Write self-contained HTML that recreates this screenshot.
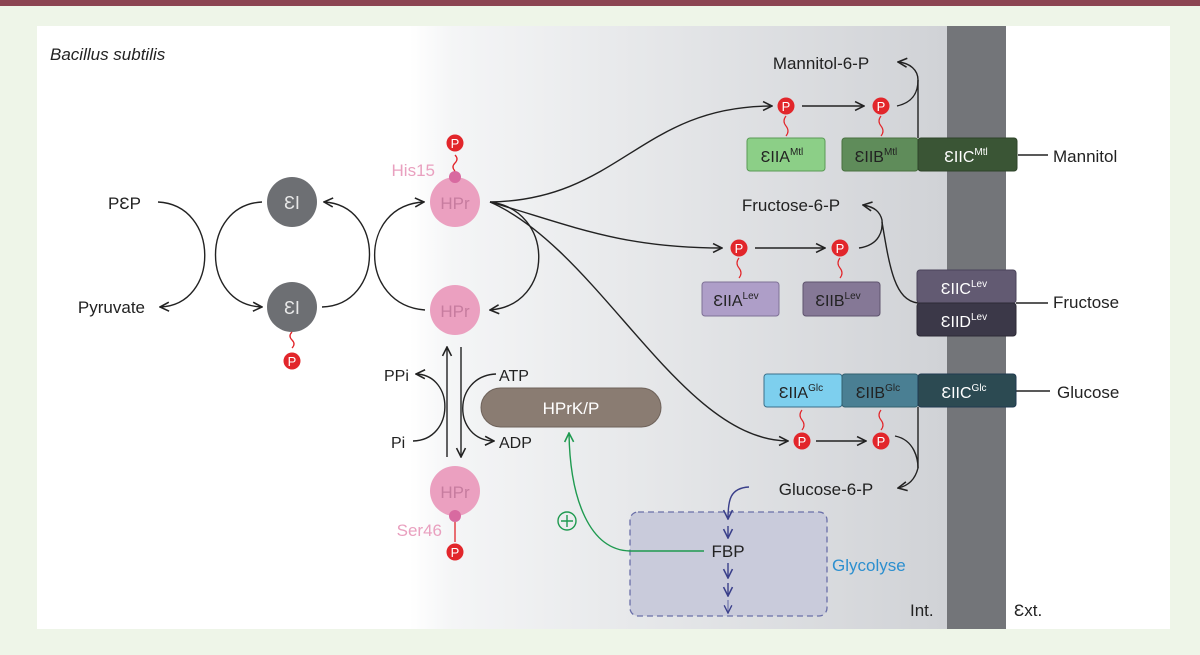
<!DOCTYPE html>
<html><head><meta charset="utf-8"><style>
body{margin:0;width:1200px;height:655px;overflow:hidden;background:#eef5e8}
svg{display:block}
text{font-family:"Liberation Sans",sans-serif}
</style></head><body>
<svg width="1200" height="655" viewBox="0 0 1200 655" xmlns="http://www.w3.org/2000/svg">
<defs>
<linearGradient id="g" x1="0" x2="1" y1="0" y2="0">
<stop offset="0" stop-color="#ffffff"/><stop offset="0.08" stop-color="#f4f5f6"/><stop offset="1" stop-color="#d0d2d6"/>
</linearGradient>
<marker id="a" viewBox="0 0 10 10" refX="9" refY="5" markerWidth="8" markerHeight="8" orient="auto-start-reverse"><path d="M1,1 L9,5 L1,9" fill="none" stroke="#222" stroke-width="1.4"/></marker>
<marker id="ab" viewBox="0 0 10 10" refX="9" refY="5" markerWidth="8" markerHeight="8" orient="auto"><path d="M1,1 L9,5 L1,9" fill="none" stroke="#3a3f8a" stroke-width="1.4"/></marker>
<marker id="ag" viewBox="0 0 10 10" refX="9" refY="5" markerWidth="8" markerHeight="8" orient="auto"><path d="M1,1 L9,5 L1,9" fill="none" stroke="#1f9a50" stroke-width="1.4"/></marker>
<g id="P"><circle r="8.5" fill="#e2262b"/><text y="5" text-anchor="middle" font-size="13" fill="#fff">P</text></g>
</defs>
<rect x="0" y="0" width="1200" height="6" fill="#8b4552"/>
<rect x="37" y="26" width="1133" height="603" fill="#fff"/>
<rect x="410" y="26" width="537" height="603" fill="url(#g)"/>
<rect x="947" y="26" width="59" height="603" fill="#737579"/>
<text x="50" y="60" font-size="17" font-style="italic" fill="#222">Bacillus subtilis</text>

<g fill="none" stroke="#222" stroke-width="1.4">
<path d="M158,202 C220,205 220,305 160,307" marker-end="url(#a)"/>
<path d="M262,202 C200,205 200,305 262,307" marker-end="url(#a)"/>
<path d="M322,307 C385,305 385,205 324,202" marker-end="url(#a)"/>
<path d="M425,310 C358,305 358,205 424,202" marker-end="url(#a)"/>
<path d="M490,202 C555,210 555,305 490,310" marker-end="url(#a)"/>
<path d="M490,202 C620,200 640,106 772,106" marker-end="url(#a)"/>
<path d="M490,202 C570,225 620,248 722,248" marker-end="url(#a)"/>
<path d="M490,202 C600,250 680,440 788,441" marker-end="url(#a)"/>
<path d="M802,106 L864,106" marker-end="url(#a)"/>
<path d="M897,106 C915,102 918,90 918,80 C918,70 910,63 898,62" marker-end="url(#a)"/>
<path d="M918,80 L918,138"/>
<path d="M755,248 L825,248" marker-end="url(#a)"/>
<path d="M859,248 C880,245 883,230 882,220 C880,212 875,207 863,205" marker-end="url(#a)"/>
<path d="M918,303 C895,300 890,270 882,222"/>
<path d="M816,441 L866,441" marker-end="url(#a)"/>
<path d="M895,436 C915,440 918,460 918,468 C915,480 908,486 898,488" marker-end="url(#a)"/>
<path d="M918,407 L918,468"/>
<path d="M447,457 L447,347" marker-end="url(#a)"/>
<path d="M461,347 L461,457" marker-end="url(#a)"/>
<path d="M413,441 C455,440 455,375 416,374" marker-end="url(#a)"/>
<path d="M496,374 C452,376 452,440 494,441" marker-end="url(#a)"/>
<path d="M1018,155 L1048,155"/><path d="M1016,303 L1048,303"/><path d="M1016,391 L1050,391"/>
</g>

<!-- EI -->
<circle cx="292" cy="202" r="25" fill="#6d6f73"/><text x="292" y="209" text-anchor="middle" font-size="18" fill="#e8e8e8">ƐI</text>
<circle cx="292" cy="307" r="25" fill="#6d6f73"/><text x="292" y="314" text-anchor="middle" font-size="18" fill="#e8e8e8">ƐI</text>
<path d="M292,332 q-4,4 0,8 q4,4 0,8" fill="none" stroke="#e2262b" stroke-width="1.3"/>
<use href="#P" x="292" y="361"/>
<text x="141" y="209" text-anchor="end" font-size="17" fill="#222">PƐP</text>
<text x="145" y="313" text-anchor="end" font-size="17" fill="#222">Pyruvate</text>

<!-- HPr -->
<circle cx="455" cy="202" r="25" fill="#eba0c0"/><text x="455" y="209" text-anchor="middle" font-size="17" fill="#c77c9f">HPr</text>
<circle cx="455" cy="177" r="6" fill="#d86aa0"/>
<path d="M455,171 q-4,-4 0,-8 q4,-4 0,-8" fill="none" stroke="#e2262b" stroke-width="1.3"/>
<use href="#P" x="455" y="143"/>
<text x="435" y="176" text-anchor="end" font-size="17" fill="#e9a0bf">His15</text>
<circle cx="455" cy="310" r="25" fill="#eba0c0"/><text x="455" y="317" text-anchor="middle" font-size="17" fill="#c77c9f">HPr</text>
<circle cx="455" cy="491" r="25" fill="#eba0c0"/><text x="455" y="498" text-anchor="middle" font-size="17" fill="#c77c9f">HPr</text>
<circle cx="455" cy="516" r="6" fill="#d86aa0"/>
<path d="M455,522 L455,542" stroke="#e2262b" stroke-width="1.3"/>
<use href="#P" x="455" y="552"/>
<text x="442" y="536" text-anchor="end" font-size="17" fill="#e9a0bf">Ser46</text>
<text x="384" y="381" font-size="16" fill="#222">PPi</text>
<text x="391" y="448" font-size="16" fill="#222">Pi</text>
<text x="499" y="381" font-size="16" fill="#222">ATP</text>
<text x="499" y="448" font-size="16" fill="#222">ADP</text>
<rect x="481" y="388" width="180" height="39" rx="19.5" fill="#8a7c72" stroke="#6e625a"/>
<text x="571" y="414" text-anchor="middle" font-size="17" fill="#fff">HPrK/P</text>

<!-- Glycolyse -->
<rect x="630" y="512" width="197" height="104" rx="8" fill="#c9cbdb" stroke="#6a6fa8" stroke-width="1.3" stroke-dasharray="6,4"/>
<path d="M749,487 C730,488 728,500 728,519" fill="none" stroke="#3a3f8a" stroke-width="1.4" marker-end="url(#ab)"/>
<path d="M728,526 L728,538" fill="none" stroke="#3a3f8a" stroke-width="1.4" marker-end="url(#ab)"/>
<path d="M728,563 L728,578" fill="none" stroke="#3a3f8a" stroke-width="1.4" marker-end="url(#ab)"/>
<path d="M728,583 L728,596" fill="none" stroke="#3a3f8a" stroke-width="1.4" marker-end="url(#ab)"/>
<path d="M728,600 L728,613" fill="none" stroke="#7075aa" stroke-width="1.2" marker-end="url(#ab)"/>
<text x="728" y="557" text-anchor="middle" font-size="17" fill="#222">FBP</text>
<text x="832" y="571" font-size="17" fill="#2c8fcf">Glycolyse</text>
<path d="M704,551 L630,551 C590,550 570,500 569,433" fill="none" stroke="#1f9a50" stroke-width="1.4" marker-end="url(#ag)"/>
<circle cx="567" cy="521" r="9" fill="none" stroke="#1f9a50" stroke-width="1.4"/>
<path d="M561,521 h12 M567,515 v12" stroke="#1f9a50" stroke-width="1.4"/>

<!-- Mannitol -->
<text x="821" y="69" text-anchor="middle" font-size="17" fill="#222">Mannitol-6-P</text>
<use href="#P" x="786" y="106"/><use href="#P" x="881" y="106"/>
<path d="M786,116 q-4,5 0,10 q4,5 0,10" fill="none" stroke="#e2262b" stroke-width="1.2"/>
<path d="M881,116 q-4,5 0,10 q4,5 0,10" fill="none" stroke="#e2262b" stroke-width="1.2"/>
<rect x="747" y="138" width="78" height="33" rx="3" fill="#8ccf87" stroke="#5a9a55"/>
<rect x="842" y="138" width="76" height="33" rx="3" fill="#5f8c5a" stroke="#48703f"/>
<rect x="918" y="138" width="99" height="33" rx="3" fill="#3a5535" stroke="#2e4429"/>
<text x="782" y="162" text-anchor="middle" font-size="16" fill="#222">ƐIIA<tspan font-size="10" dy="-7">Mtl</tspan></text>
<text x="876" y="162" text-anchor="middle" font-size="16" fill="#222">ƐIIB<tspan font-size="10" dy="-7">Mtl</tspan></text>
<text x="966" y="162" text-anchor="middle" font-size="16" fill="#fff">ƐIIC<tspan font-size="10" dy="-7">Mtl</tspan></text>
<text x="1053" y="162" font-size="17" fill="#222">Mannitol</text>

<!-- Fructose -->
<text x="791" y="211" text-anchor="middle" font-size="17" fill="#222">Fructose-6-P</text>
<use href="#P" x="739" y="248"/><use href="#P" x="840" y="248"/>
<path d="M739,258 q-4,5 0,10 q4,5 0,10" fill="none" stroke="#e2262b" stroke-width="1.2"/>
<path d="M840,258 q-4,5 0,10 q4,5 0,10" fill="none" stroke="#e2262b" stroke-width="1.2"/>
<rect x="702" y="282" width="77" height="34" rx="3" fill="#ae9ec8" stroke="#7f7196"/>
<rect x="803" y="282" width="77" height="34" rx="3" fill="#857896" stroke="#5e536e"/>
<rect x="917" y="270" width="99" height="33" rx="3" fill="#625a72" stroke="#4a435a"/>
<rect x="917" y="303" width="99" height="33" rx="3" fill="#3b3848" stroke="#2c2a36"/>
<text x="736" y="306" text-anchor="middle" font-size="16" fill="#222">ƐIIA<tspan font-size="10" dy="-7">Lev</tspan></text>
<text x="838" y="306" text-anchor="middle" font-size="16" fill="#222">ƐIIB<tspan font-size="10" dy="-7">Lev</tspan></text>
<text x="964" y="294" text-anchor="middle" font-size="16" fill="#fff">ƐIIC<tspan font-size="10" dy="-7">Lev</tspan></text>
<text x="964" y="327" text-anchor="middle" font-size="16" fill="#fff">ƐIID<tspan font-size="10" dy="-7">Lev</tspan></text>
<text x="1053" y="308" font-size="17" fill="#222">Fructose</text>

<!-- Glucose -->
<rect x="764" y="374" width="78" height="33" rx="3" fill="#7dcfee" stroke="#3a6f8a"/>
<rect x="842" y="374" width="76" height="33" rx="3" fill="#4a7f93" stroke="#33606f"/>
<rect x="918" y="374" width="98" height="33" rx="3" fill="#2c4a52" stroke="#1f3a50"/>
<text x="801" y="398" text-anchor="middle" font-size="16" fill="#222">ƐIIA<tspan font-size="10" dy="-7">Glc</tspan></text>
<text x="878" y="398" text-anchor="middle" font-size="16" fill="#222">ƐIIB<tspan font-size="10" dy="-7">Glc</tspan></text>
<text x="964" y="398" text-anchor="middle" font-size="16" fill="#fff">ƐIIC<tspan font-size="10" dy="-7">Glc</tspan></text>
<text x="1057" y="398" font-size="17" fill="#222">Glucose</text>
<path d="M802,410 q-4,5 0,10 q4,5 0,10" fill="none" stroke="#e2262b" stroke-width="1.2"/>
<path d="M881,410 q-4,5 0,10 q4,5 0,10" fill="none" stroke="#e2262b" stroke-width="1.2"/>
<use href="#P" x="802" y="441"/><use href="#P" x="881" y="441"/>
<text x="826" y="495" text-anchor="middle" font-size="17" fill="#222">Glucose-6-P</text>
<text x="910" y="616" font-size="17" fill="#222">Int.</text>
<text x="1014" y="616" font-size="17" fill="#222">Ɛxt.</text>
</svg>
</body></html>
